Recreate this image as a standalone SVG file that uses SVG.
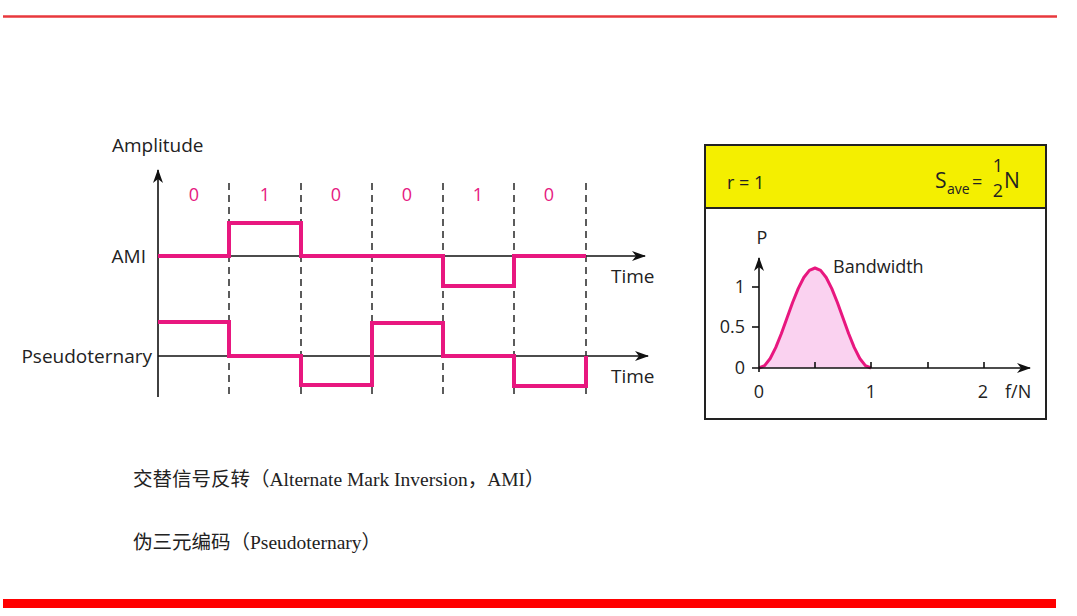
<svg xmlns="http://www.w3.org/2000/svg" width="1077" height="616" viewBox="0 0 1077 616">
<style>
.lbl{font-family:"Open Sans","Liberation Sans",sans-serif;font-size:19px;fill:#222}
.bit{font-family:"Open Sans","Liberation Sans",sans-serif;font-size:18px;fill:#e6197f;text-anchor:middle}
.ax{stroke:#111;stroke-width:1.6;fill:none}
.dash{stroke:#333;stroke-width:1.6;stroke-dasharray:7 5;fill:none}
.wave{stroke:#e8177f;stroke-width:4;fill:none;stroke-linejoin:miter}
.cap{font-family:"Liberation Serif","Noto Sans CJK SC",serif;font-size:19.5px;fill:#222}
.pl{font-family:"Open Sans","Liberation Sans",sans-serif;font-size:18px;fill:#222}
.big{font-size:21px}
.sub{font-size:14px}
.frac{font-size:18px;text-anchor:middle}
</style>
<defs>
<marker id="arr" viewBox="0 0 14 10" refX="13" refY="5" markerWidth="14" markerHeight="10" markerUnits="userSpaceOnUse" orient="auto">
<path d="M0,0 L14,5 L0,10 L4,5 Z" fill="#111"/>
</marker>
</defs>
<rect width="1077" height="616" fill="#fff"/>
<g id="frame">
<line x1="3" y1="16.5" x2="1057" y2="16.5" stroke="#e8383d" stroke-width="2.5"/>
<rect x="3" y="599" width="1053" height="9" fill="#ff0000"/>
</g>
<g id="connectors">
<line class="ax" x1="158" y1="397" x2="158" y2="170" marker-end="url(#arr)"/>
<line class="ax" x1="158" y1="256" x2="645" y2="256" marker-end="url(#arr)"/>
<line class="ax" x1="158" y1="356" x2="648" y2="356" marker-end="url(#arr)"/>
<line class="dash" x1="229" y1="183" x2="229" y2="397"/>
<line class="dash" x1="301" y1="183" x2="301" y2="397"/>
<line class="dash" x1="372" y1="183" x2="372" y2="397"/>
<line class="dash" x1="443" y1="183" x2="443" y2="397"/>
<line class="dash" x1="514" y1="183" x2="514" y2="397"/>
<line class="dash" x1="586" y1="183" x2="586" y2="397"/>
</g>
<g id="ami-signal">
<text class="lbl" x="146" y="263" text-anchor="end">AMI</text>
<path class="wave" d="M158,256 H229 V223 H301 V256 H443 V286 H514 V256 H586"/>
<text class="lbl" x="611" y="283">Time</text>
</g>
<g id="pseudoternary-signal">
<text class="lbl" x="152" y="363" text-anchor="end">Pseudoternary</text>
<path class="wave" d="M158,322 H229 V356 H301 V385 H372 V323 H443 V356 H514 V386 H586 V356"/>
<text class="lbl" x="611" y="383">Time</text>
</g>
<g id="amplitude-axis">
<text class="lbl" x="112" y="152">Amplitude</text>
<text class="bit" x="194" y="201">0</text>
<text class="bit" x="265" y="201">1</text>
<text class="bit" x="336" y="201">0</text>
<text class="bit" x="407" y="201">0</text>
<text class="bit" x="478" y="201">1</text>
<text class="bit" x="549" y="201">0</text>
</g>
<g id="spectrum-panel">
<rect x="705" y="145" width="341" height="63" fill="#f4ef00"/>
<rect x="705" y="145" width="341" height="274" fill="none" stroke="#222" stroke-width="2"/>
<line x1="705" y1="208" x2="1046" y2="208" stroke="#222" stroke-width="2"/>
<text class="pl" x="727" y="189">r = 1</text>
<text class="pl big" x="935" y="188">S</text>
<text class="pl sub" x="947" y="194">ave</text>
<text class="pl" x="972" y="188">=</text>
<text class="pl frac" x="998" y="172">1</text>
<text class="pl frac" x="998" y="197">2</text>
<text class="pl big" x="1004" y="188">N</text>
<path d="M759,368 L764.6,365.6 770.2,358.5 775.8,347.4 781.4,333.5 787,318 792.6,302.5 798.2,288.6 803.8,277.5 809.4,270.4 815,268 820.6,270.4 826.2,277.5 831.8,288.6 837.4,302.5 843,318 848.6,333.5 854.2,347.4 859.8,358.5 865.4,365.6 871,368 Z" fill="#fad2f0" stroke="none"/>
<path d="M759,368 L764.6,365.6 770.2,358.5 775.8,347.4 781.4,333.5 787,318 792.6,302.5 798.2,288.6 803.8,277.5 809.4,270.4 815,268 820.6,270.4 826.2,277.5 831.8,288.6 837.4,302.5 843,318 848.6,333.5 854.2,347.4 859.8,358.5 865.4,365.6 871,368" fill="none" stroke="#e8177f" stroke-width="3" stroke-linejoin="round"/>
<line class="ax" x1="759" y1="372" x2="759" y2="258" marker-end="url(#arr)"/>
<line class="ax" x1="752" y1="368" x2="1030" y2="368" marker-end="url(#arr)"/>
<line class="ax" x1="752" y1="287" x2="759" y2="287"/>
<line class="ax" x1="752" y1="327" x2="759" y2="327"/>
<line class="ax" x1="815" y1="362" x2="815" y2="368"/>
<line class="ax" x1="871" y1="362" x2="871" y2="368"/>
<line class="ax" x1="928" y1="362" x2="928" y2="368"/>
<line class="ax" x1="984" y1="362" x2="984" y2="368"/>
<text class="pl" x="762" y="244" text-anchor="middle">P</text>
<text class="pl" x="745" y="293" text-anchor="end">1</text>
<text class="pl" x="745" y="333" text-anchor="end">0.5</text>
<text class="pl" x="745" y="374" text-anchor="end">0</text>
<text class="pl" x="759" y="398" text-anchor="middle">0</text>
<text class="pl" x="871" y="398" text-anchor="middle">1</text>
<text class="pl" x="983" y="398" text-anchor="middle">2</text>
<text class="pl" x="1005" y="398">f/N</text>
<text class="pl" x="833" y="273">Bandwidth</text>
</g>
<g id="captions">
<text class="cap" x="133" y="486">交替信号反转（Alternate Mark Inversion，AMI）</text>
<text class="cap" x="133" y="549">伪三元编码（Pseudoternary）</text>
</g>
</svg>
